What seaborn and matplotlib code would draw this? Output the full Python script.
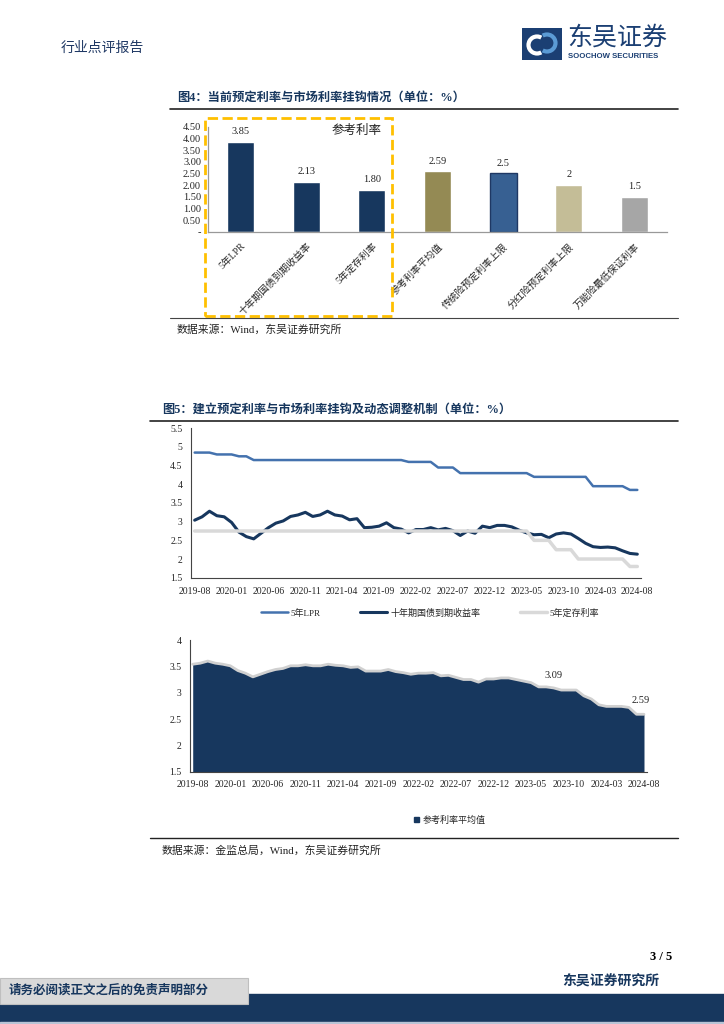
import numpy as np
import pandas as pd
import seaborn as sns
import matplotlib.pyplot as plt
from matplotlib.patches import Rectangle, Arc, Patch
from matplotlib.lines import Line2D
from matplotlib.ticker import FuncFormatter

sns.set_theme(style='white')
plt.rcParams['font.family'] = ['Liberation Serif', 'Noto Sans CJK SC']
plt.rcParams['axes.unicode_minus'] = False

W, H = 724, 1024
NAVY = '#17375E'


def box(x0, y0, x1, y1):
    # pixel box (top-left origin) -> figure fraction
    return [x0 / W, 1 - y1 / H, (x1 - x0) / W, (y1 - y0) / H]


def fx(x):
    return x / W


def fy(y):
    return 1 - y / H


# ---------------- 图4 数据 ----------------
bar_names = ['5年LPR', '十年期国债到期收益率', '5年定存利率', '参考利率平均值',
             '传统险预定利率上限', '分红险预定利率上限', '万能险最低保证利率']
bar_values = [3.85, 2.13, 1.80, 2.59, 2.5, 2.0, 1.5]
bar_labels = ['3.85', '2.13', '1.80', '2.59', '2.5', '2', '1.5']
bar_colors = ['#17375E', '#17375E', '#17375E', '#948A54', '#376092', '#C4BD97', '#A6A6A6']

# ---------------- 图5 数据 (2019-08 ~ 2024-08, 月度) ----------------
months = pd.period_range('2019-08', '2024-08', freq='M').strftime('%Y-%m').tolist()
tick_labels = ['2019-08', '2020-01', '2020-06', '2020-11', '2021-04', '2021-09', '2022-02',
               '2022-07', '2022-12', '2023-05', '2023-10', '2024-03', '2024-08']

lpr_5y = [4.85, 4.85, 4.85, 4.80, 4.80, 4.80, 4.75, 4.75, 4.65, 4.65,
          4.65, 4.65, 4.65, 4.65, 4.65, 4.65, 4.65, 4.65, 4.65, 4.65,
          4.65, 4.65, 4.65, 4.65, 4.65, 4.65, 4.65, 4.65, 4.65, 4.60,
          4.60, 4.60, 4.60, 4.45, 4.45, 4.45, 4.30, 4.30, 4.30, 4.30,
          4.30, 4.30, 4.30, 4.30, 4.30, 4.30, 4.20, 4.20, 4.20, 4.20,
          4.20, 4.20, 4.20, 4.20, 3.95, 3.95, 3.95, 3.95, 3.95, 3.85,
          3.85]
cgb_10y = [3.04, 3.13, 3.28, 3.16, 3.13, 2.98, 2.72, 2.60, 2.54, 2.69,
           2.84, 2.96, 3.02, 3.14, 3.18, 3.25, 3.14, 3.18, 3.28, 3.18,
           3.15, 3.05, 3.08, 2.84, 2.85, 2.88, 2.97, 2.84, 2.80, 2.70,
           2.79, 2.79, 2.84, 2.78, 2.82, 2.76, 2.63, 2.75, 2.69, 2.88,
           2.84, 2.90, 2.90, 2.86, 2.77, 2.70, 2.65, 2.66, 2.57, 2.67,
           2.70, 2.67, 2.55, 2.42, 2.33, 2.31, 2.32, 2.30, 2.22, 2.15,
           2.13]
deposit_5y = [2.75, 2.75, 2.75, 2.75, 2.75, 2.75, 2.75, 2.75, 2.75, 2.75,
              2.75, 2.75, 2.75, 2.75, 2.75, 2.75, 2.75, 2.75, 2.75, 2.75,
              2.75, 2.75, 2.75, 2.75, 2.75, 2.75, 2.75, 2.75, 2.75, 2.75,
              2.75, 2.75, 2.75, 2.75, 2.75, 2.75, 2.75, 2.75, 2.75, 2.75,
              2.75, 2.75, 2.75, 2.75, 2.75, 2.75, 2.50, 2.50, 2.50, 2.25,
              2.25, 2.25, 2.00, 2.00, 2.00, 2.00, 2.00, 2.00, 2.00, 1.80,
              1.80]
ref_avg = [3.54, 3.56, 3.60, 3.56, 3.54, 3.51, 3.42, 3.37, 3.30, 3.35,
           3.40, 3.44, 3.46, 3.51, 3.51, 3.53, 3.51, 3.51, 3.54, 3.52,
           3.51, 3.48, 3.49, 3.41, 3.41, 3.41, 3.44, 3.40, 3.38, 3.35,
           3.37, 3.37, 3.38, 3.32, 3.33, 3.29, 3.25, 3.25, 3.20, 3.26,
           3.26, 3.28, 3.28, 3.25, 3.22, 3.19, 3.11, 3.11, 3.09, 3.05,
           3.05, 3.05, 2.94, 2.88, 2.77, 2.74, 2.74, 2.74, 2.72, 2.59,
           2.59]

rates = pd.DataFrame({'idx': np.arange(len(months)), 'month': months,
                      'lpr': lpr_5y, 'cgb': cgb_10y, 'dep': deposit_5y, 'avg': ref_avg})
tick_pos = [months.index(t) for t in tick_labels]

fig = plt.figure(figsize=(W / 100, H / 100), dpi=100)
fig.patch.set_facecolor('white')

# ---------------- 页眉 ----------------
fig.text(fx(61), fy(48), '行业点评报告', fontsize=10, color='#1F3864',
         family=['Noto Sans CJK SC'], va='center', ha='left')
logo = fig.add_axes(box(522, 28, 562, 60))
logo.set_xlim(0, 40)
logo.set_ylim(32, 0)
logo.set_axis_off()
logo.add_patch(Rectangle((0, 0), 40, 32, color='#1B3F73'))
logo.add_patch(Arc((15, 17), 17, 17, theta1=60, theta2=300, color='white', lw=3))
logo.add_patch(Arc((25, 15), 17, 17, theta1=240, theta2=480, color='#5B9BD5', lw=3))
fig.text(fx(567), fy(38), '东吴证券', fontsize=18, color='#1B3F73',
         family=['Noto Sans CJK SC'], va='center', ha='left')
fig.text(fx(568), fy(57), 'SOOCHOW SECURITIES', fontsize=5.6, color='#1B3F73',
         family=['Liberation Sans'], weight='bold', va='center', ha='left')

# ---------------- 图4 ----------------
fig.text(fx(177), fy(97.5), '图4：当前预定利率与市场利率挂钩情况（单位：%）', fontsize=8.8,
         color=NAVY, weight='bold', va='center', ha='left')
fig.add_artist(Line2D([fx(170), fx(678)], [fy(109), fy(109)], color='#222222', lw=1.2,
                      transform=fig.transFigure))

ax1 = fig.add_axes(box(208, 126.7, 667, 231.7))
sns.barplot(x=bar_names, y=bar_values, hue=bar_names, palette=bar_colors, legend=False,
            width=0.41, saturation=1, ax=ax1)
for patch, lab in zip(ax1.patches, bar_labels):
    ax1.annotate(lab, (patch.get_x() + patch.get_width() / 2, patch.get_height()),
                 xytext=(0, 4), textcoords='offset points', ha='center', va='bottom',
                 fontsize=7.5, color='#222222')
ax1.patches[4].set_edgecolor('#1F3864')
ax1.patches[4].set_linewidth(1.0)
ax1.set_ylim(0, 4.5)
ax1.set_xlim(-0.5, 6.5)
ax1.set_yticks(np.arange(0, 4.51, 0.5))
ax1.set_yticklabels(['-'] + ['%.2f' % v for v in np.arange(0.5, 4.51, 0.5)], fontsize=7.5)
ax1.set_xticks(range(len(bar_names)))
ax1.set_xticklabels(bar_names, rotation=45, ha='right', rotation_mode='anchor', fontsize=7)
ax1.set_xticks(np.arange(-0.5, 7, 1), minor=True)
ax1.tick_params(axis='x', which='major', length=0, pad=7)
ax1.tick_params(axis='x', which='minor', length=4, direction='out', color='#999999', width=0.8)
ax1.tick_params(axis='y', length=3, direction='out', color='#999999', width=0.8, pad=2)
ax1.set_xlabel('')
ax1.set_ylabel('')
for s in ['top', 'right']:
    ax1.spines[s].set_visible(False)
for s in ['left', 'bottom']:
    ax1.spines[s].set_color('#999999')
    ax1.spines[s].set_linewidth(0.9)
ax1.set_facecolor('none')

fig.add_artist(Rectangle((fx(205), fy(316)), (392 - 205) / W, (316 - 118) / H, fill=False,
                         edgecolor='#FFC000', lw=2, linestyle='--', transform=fig.transFigure))
fig.text(fx(357), fy(131), '参考利率', fontsize=9, color='#222222', va='center', ha='center')

fig.add_artist(Line2D([fx(170), fx(678)], [fy(318), fy(318)], color='#444444', lw=0.8,
                      transform=fig.transFigure))
fig.text(fx(177), fy(330), '数据来源：Wind，东吴证券研究所', fontsize=7.8, color='#222222',
         va='center', ha='left')

# ---------------- 图5 ----------------
fig.text(fx(162), fy(410), '图5：建立预定利率与市场利率挂钩及动态调整机制（单位：%）', fontsize=8.8,
         color=NAVY, weight='bold', va='center', ha='left')
fig.add_artist(Line2D([fx(150), fx(678)], [fy(421), fy(421)], color='#222222', lw=1.2,
                      transform=fig.transFigure))

ax2 = fig.add_axes(box(190.7, 428.3, 641, 577.7))
sns.lineplot(data=rates, x='idx', y='lpr', ax=ax2, color='#4472AE', lw=1.8, label='5年LPR')
sns.lineplot(data=rates, x='idx', y='cgb', ax=ax2, color=NAVY, lw=2.2, label='十年期国债到期收益率')
sns.lineplot(data=rates, x='idx', y='dep', ax=ax2, color='#D9D9D9', lw=2.5, label='5年定存利率')
ax2.set_xlim(-0.54, 60.5)
ax2.set_ylim(1.5, 5.5)
ax2.set_yticks(np.arange(1.5, 5.51, 0.5))
ax2.yaxis.set_major_formatter(FuncFormatter(lambda v, p: '%g' % v))
ax2.set_xticks(tick_pos)
ax2.set_xticklabels(tick_labels, fontsize=7)
ax2.set_xticks(rates['idx'], minor=True)
ax2.tick_params(axis='x', which='both', direction='in', length=3, color='#444444', width=0.7, pad=7)
ax2.tick_params(axis='y', direction='out', length=3, color='#444444', width=0.7, labelsize=7, pad=3)
ax2.set_xlabel('')
ax2.set_ylabel('')
for s in ['top', 'right']:
    ax2.spines[s].set_visible(False)
for s in ['left', 'bottom']:
    ax2.spines[s].set_color('#444444')
    ax2.spines[s].set_linewidth(0.8)
handles, labels = ax2.get_legend_handles_labels()
ax2.legend(handles, labels, loc='center', bbox_to_anchor=(fx(430), fy(613)),
           bbox_transform=fig.transFigure, ncol=3, frameon=False, fontsize=6.5,
           handlelength=3.0, columnspacing=4.4, handletextpad=0.3)

ax3 = fig.add_axes(box(190, 640, 647, 771.7))
ax3.fill_between(rates['idx'], rates['avg'], 0, color=NAVY, lw=0)
sns.lineplot(data=rates, x='idx', y='avg', ax=ax3, color='#D0D0D0', lw=2.0)
ax3.text(48, 3.09 + 0.24, '3.09', ha='center', va='center', fontsize=7.5, color='#222222')
ax3.text(59.6, 2.59 + 0.27, '2.59', ha='center', va='center', fontsize=7.5, color='#222222')
ax3.set_xlim(-0.36, 60.4)
ax3.set_ylim(1.5, 4)
ax3.set_yticks(np.arange(1.5, 4.01, 0.5))
ax3.yaxis.set_major_formatter(FuncFormatter(lambda v, p: '%g' % v))
ax3.set_xticks(tick_pos)
ax3.set_xticklabels(tick_labels, fontsize=7)
ax3.set_xticks(rates['idx'], minor=True)
ax3.tick_params(axis='x', which='both', direction='in', length=3, color='#444444', width=0.7, pad=6)
ax3.tick_params(axis='y', direction='out', length=3, color='#444444', width=0.7, labelsize=7, pad=3)
ax3.set_xlabel('')
ax3.set_ylabel('')
for s in ['top', 'right']:
    ax3.spines[s].set_visible(False)
for s in ['left', 'bottom']:
    ax3.spines[s].set_color('#444444')
    ax3.spines[s].set_linewidth(0.8)
ax3.legend([Patch(color=NAVY)], ['参考利率平均值'], loc='center', bbox_to_anchor=(fx(450), fy(820)),
           bbox_transform=fig.transFigure, frameon=False, fontsize=6.5,
           handlelength=0.6, handleheight=0.6, handletextpad=0.4)

fig.add_artist(Line2D([fx(150), fx(678)], [fy(838), fy(838)], color='#222222', lw=1.0,
                      transform=fig.transFigure))
fig.text(fx(162), fy(851), '数据来源：金监总局，Wind，东吴证券研究所', fontsize=7.8, color='#222222',
         va='center', ha='left')

# ---------------- 页脚 ----------------
fig.text(fx(672), fy(957), '3 / 5', fontsize=9, weight='bold', color='black', va='center', ha='right')
fig.text(fx(562), fy(982), '东吴证券研究所', fontsize=10, weight='bold', color=NAVY,
         va='center', ha='left')
fig.add_artist(Rectangle((0, fy(1022)), 1, (1022 - 994) / H, color=NAVY, transform=fig.transFigure))
fig.add_artist(Rectangle((0, 0), 1, (1024 - 1022) / H, color='#B8C4D6', transform=fig.transFigure))
fig.add_artist(Rectangle((0, fy(1004)), 248 / W, (1004 - 978) / H, facecolor='#D9D9D9',
                         edgecolor='#BFBFBF', lw=0.8, transform=fig.transFigure))
fig.text(fx(9), fy(991), '请务必阅读正文之后的免责声明部分', fontsize=9, weight='bold', color=NAVY,
         va='center', ha='left')

fig.savefig('out.png', dpi=100)
